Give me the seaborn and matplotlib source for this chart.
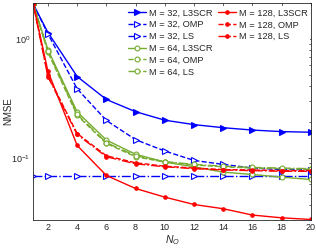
import matplotlib
matplotlib.use("Agg")
import matplotlib.pyplot as plt
import seaborn as sns
import numpy as np
import pandas as pd

# Data
n_o = [1, 2, 4, 6, 8, 10, 12, 14, 16, 18, 20]

m32_l3scr = [1.95, 1.13, 0.482, 0.309, 0.244, 0.207, 0.190, 0.179, 0.171, 0.166, 0.164]
m32_omp   = [1.95, 1.10, 0.380, 0.206, 0.142, 0.114, 0.095, 0.088, 0.082, 0.0796, 0.0796]
m32_ls    = [0.070, 0.070, 0.070, 0.070, 0.070, 0.070, 0.070, 0.070, 0.070, 0.070, 0.070]

m64_l3scr = [1.95, 0.81, 0.243, 0.141, 0.107, 0.092, 0.084, 0.0757, 0.0724, 0.0687, 0.0657]
m64_omp   = [1.95, 0.77, 0.227, 0.132, 0.102, 0.092, 0.087, 0.084, 0.082, 0.081, 0.080]
m64_ls    = [1.95, 0.79, 0.232, 0.134, 0.104, 0.093, 0.088, 0.085, 0.083, 0.082, 0.081]

m128_l3scr = [1.95, 0.534, 0.127, 0.071, 0.0552, 0.0467, 0.0405, 0.0373, 0.0330, 0.0313, 0.0303]
m128_omp   = [1.95, 0.492, 0.160, 0.104, 0.0908, 0.085, 0.082, 0.0796, 0.079, 0.078, 0.078]
m128_ls    = [1.95, 0.480, 0.157, 0.102, 0.089, 0.084, 0.081, 0.079, 0.078, 0.077, 0.077]

labels = ["M = 32, L3SCR", "M = 32, OMP", "M = 32, LS",
          "M = 64, L3SCR", "M = 64, OMP", "M = 64, LS",
          "M = 128, L3SCR", "M = 128, OMP", "M = 128, LS"]
series = [m32_l3scr, m32_omp, m32_ls, m64_l3scr, m64_omp, m64_ls,
          m128_l3scr, m128_omp, m128_ls]

blue = "#0000FF"
green = "#77AC30"
red = "#FF0000"
styles = [
    dict(color=blue, linestyle="-", marker=">", markerfacecolor=blue, markersize=4),
    dict(color=blue, linestyle="--", marker=">", markerfacecolor="white", markersize=4),
    dict(color=blue, linestyle="-.", marker=">", markerfacecolor="white", markersize=4),
    dict(color=green, linestyle="-", marker="o", markerfacecolor="white", markersize=3.5),
    dict(color=green, linestyle="--", marker="o", markerfacecolor="white", markersize=3.5),
    dict(color=green, linestyle="-.", marker="o", markerfacecolor="white", markersize=3.5),
    dict(color=red, linestyle="-", marker="o", markerfacecolor=red, markersize=2.5),
    dict(color=red, linestyle="--", marker="o", markerfacecolor=red, markersize=2.5),
    dict(color=red, linestyle="-.", marker="o", markerfacecolor=red, markersize=2.5),
]

sns.set_theme(style="white")
plt.rcParams["font.family"] = ["Liberation Sans", "DejaVu Sans"]
plt.rcParams["mathtext.fontset"] = "custom"
plt.rcParams["mathtext.rm"] = "Liberation Sans"
plt.rcParams["mathtext.it"] = "Liberation Sans:italic"

fig = plt.figure(figsize=(3.16, 2.50), dpi=100)
ax = fig.add_axes([0.1054, 0.12, 0.8786, 0.868])

for lab, vals, st in zip(labels, series, styles):
    df = pd.DataFrame({"N_O": n_o, "NMSE": vals})
    sns.lineplot(data=df, x="N_O", y="NMSE", ax=ax, label=lab,
                 linewidth=1.0, markeredgecolor=st["color"], markeredgewidth=0.8,
                 **st)

ax.set_yscale("log")
ax.set_xlim(1, 20)
ax.set_ylim(0.03, 2.0)
ax.set_xticks([2, 4, 6, 8, 10, 12, 14, 16, 18, 20])
ax.tick_params(which="both", direction="in", top=True, right=True,
               labelsize=6.5, colors="#262626", length=2.5, width=0.5, pad=2)
ax.tick_params(which="minor", length=1.5)
for sp in ax.spines.values():
    sp.set_color("#262626")
    sp.set_linewidth(0.6)

ax.set_xlabel("$N_O$", fontsize=7.5, color="#262626", labelpad=1)
ax.set_ylabel("NMSE", fontsize=7, color="#262626")
ax.yaxis.set_label_coords(-0.074, 0.5)

handles, labs = ax.get_legend_handles_labels()
if ax.get_legend():
    ax.get_legend().remove()

common = dict(fontsize=6.7, handlelength=1.9, handletextpad=0.35,
              labelspacing=0.3, borderaxespad=0.0, loc="upper left")
leg1 = ax.legend(handles[:6], labs[:6], bbox_to_anchor=(0.341, 0.975),
                 frameon=False, borderpad=0.0, **common)
ax.add_artist(leg1)
leg2 = ax.legend(handles[6:], labs[6:], bbox_to_anchor=(0.655, 0.987),
                 frameon=True, facecolor="white", edgecolor="none",
                 framealpha=1, borderpad=0.3, **common)

fig.savefig("out.png", dpi=100)
